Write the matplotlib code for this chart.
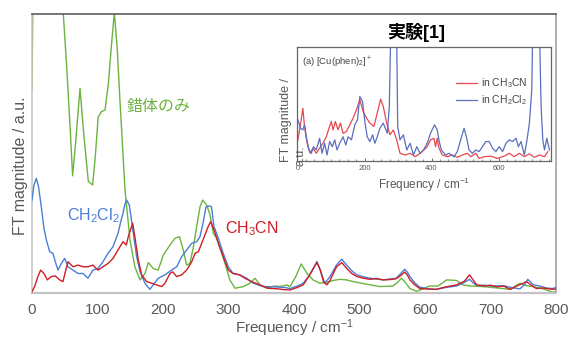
import matplotlib
matplotlib.use("Agg")
import matplotlib.pyplot as plt
from matplotlib import font_manager
from matplotlib.ticker import MultipleLocator

# main spectra (computed), y in % of axis height
green_x = [0, 1.5, 3, 45, 47.8, 53, 58, 62, 67, 73.3, 79, 86, 92.6, 97, 101, 106, 111.5, 116.6, 121, 125.7,
           130, 134.3, 142, 149.6, 157, 165, 172.5, 177.6, 185, 192.6, 200.5, 210.7, 218.3, 225, 231, 236,
           241, 246, 251.4, 256.5, 260.6, 266.7, 271.8, 276.8, 282, 287, 294.7, 302, 310, 322.6, 333, 340.5,
           348, 358, 370, 380, 389, 394, 403, 411, 420, 429, 439, 450, 460, 470, 480, 490, 510, 531, 551, 558,
           564, 570, 577, 587, 597, 607, 620, 633, 648, 658, 670, 689, 710, 730, 745, 755, 765, 780, 795, 800]
green_y = [73, 110, 150, 150, 100, 81, 60, 42, 55, 73.4, 57, 40, 38.7, 50, 63, 65, 65.6, 75, 88, 100.5,
           88, 69, 36.9, 19, 9.4, 4.7, 7, 10.9, 8.8, 8.2, 13.6, 17.2, 19.6, 20.2, 15.4, 10,
           10.6, 16, 23.8, 30.9, 33.3, 31.5, 28, 21.4, 19.6, 16, 10.6, 4.7, 1.7, 2.3, 3.5, 5.3,
           2.9, 1.7, 2.5, 2.3, 2.9, 2.3, 6, 10.4, 7, 4.7, 3.5, 3.8, 4.5, 4.9, 4.7, 4.1, 3.2, 2.3, 2.5, 3.8,
           5.3, 3.8, 1.6, 0.6, 1.5, 2.5, 2.5, 4.7, 4.5, 2.9, 2.5, 2.3, 1.8, 1.3, 3.5, 2.6, 2.3, 1.5, 0.3, 0.5]

blue_x = [0, 3, 6.6, 10, 14.2, 18.3, 21.9, 27, 32, 35.6, 39.7, 44.8, 49.9, 55, 62.6, 70.2, 77.9, 85.5, 93, 100.7,
          108.4, 116, 123.7, 131.3, 136, 139, 142, 144.6, 148.6, 154.7, 159.8, 165, 172.5, 180, 185, 192.8, 203,
          213, 221, 228.5, 236, 243.8, 251.4, 256.5, 261.6, 265.6, 270.7, 274, 277.9, 284.5, 292, 299.7, 307,
          317, 327.7, 338, 353, 370, 385, 394, 405, 414, 421, 427, 435, 440, 447, 455, 465, 473, 480, 488, 496,
          506, 516, 526, 536, 546, 556, 563, 569, 573, 577, 585, 592, 605, 617, 632, 648, 660, 668, 674, 679,
          690, 700, 720, 735, 745, 752, 757, 765, 775, 785, 795, 800]
blue_y = [33.3, 38.7, 41.1, 38.1, 30.9, 23.2, 19, 14.8, 14.2, 11.2, 8.2, 10.6, 12.4, 9.4, 8.2, 7, 7, 5.3, 8.2, 8.8,
          11.2, 14.2, 16.6, 21.4, 26, 28.6, 32, 33.3, 31.5, 21.4, 13, 7.6, 3.5, 1.3, 2.9, 5.3, 6.5,
          8.2, 9.4, 13, 15.4, 17.8, 18.4, 20.2, 25.6, 30.9, 31.2, 30.9, 23.8, 19.6, 14.2, 9.4, 7,
          6.5, 5.3, 3.5, 2.3, 2.2, 2, 1.6, 2.5, 3.5, 5.5, 7.7, 11.3, 8.3, 3.5, 5.9, 10.1, 12.1, 10.1, 8, 6.5,
          5.8, 5.3, 5, 4.7, 5, 5.3, 7, 8.5, 7.5, 5.9, 3.5, 2.1, 1.5, 1.3, 2, 2.5, 3.8, 4.9, 3.5, 2.7,
          2.8, 2.5, 2.6, 1.8, 1.5, 3, 4.9, 3, 2.5, 1.8, 1.6, 2]

red_x = [0, 4, 9, 13.2, 18.3, 23.4, 29.5, 35.6, 42.2, 47.3, 50.9, 55, 62.6, 70.2, 77.9, 85.5, 93, 100.7, 108.4, 116,
         123.7, 131.3, 139, 144, 147, 153.7, 157, 162.3, 167.4, 175, 182.7, 190.3, 198, 203, 210.7, 214.7, 220.8,
         228.5, 236, 243.8, 249, 254, 259, 264, 269, 272.8, 277.9, 284.5, 292, 299.7, 307, 317, 325, 335, 348,
         360.5, 375, 385, 394, 405, 414, 424, 430, 435, 440, 445, 450, 455, 460, 465, 473, 480, 488, 496, 506,
         516, 526, 536, 546, 556, 563, 569, 573, 577, 584, 592, 605, 617, 632, 648, 660, 668, 674, 679, 690,
         700, 710, 720, 730, 740, 748, 755, 762, 770, 780, 795, 800]
red_y = [0.5, 2.3, 5.9, 8.2, 7, 4.7, 5.9, 6.1, 4.7, 4.1, 7.6, 11.2, 9.4, 10, 9.4, 9.4, 10, 8.2, 9.4, 10.6,
         12.4, 15.4, 18.4, 17.2, 20.2, 25, 20.2, 11.8, 6.5, 4.1, 3.5, 2.9, 2.3, 3.5, 7, 7.6, 5.9,
         6.5, 8.2, 11.2, 14.2, 14.8, 17.8, 20.8, 23.8, 25.6, 22.6, 17.8, 13, 8.2, 7, 6.5, 5.3, 4.1, 2.9,
         1.7, 1.5, 1.2, 1.1, 2, 2.9, 6.5, 9, 10.9, 8.3, 4.1, 2.9, 4.5, 7, 9.4, 10.9, 8.9, 7, 5.9, 5.3,
         4.9, 5.2, 4.7, 4.8, 5.1, 6.3, 7.5, 6.5, 4.7, 3, 1.6, 1.4, 1.3, 2.2, 2.9, 4.2, 6.5, 4.5, 2.9, 2.5,
         2.8, 2.2, 2.5, 1.3, 2.5, 3.3, 4.1, 2.8, 1.6, 1.8, 1.3, 1.5]

# experimental spectra of the inset
exp_red_x = [1, 11, 16, 21, 26, 31, 38, 46, 56, 66, 76, 86, 94, 101, 106, 113, 121, 128, 136, 146,
             156, 166, 176, 186, 196, 206, 216, 228, 238, 248, 256, 266, 276, 286, 296, 306, 321, 336, 351, 366,
             377, 387, 397, 407, 412, 417, 422, 432, 447, 462, 477, 492, 507, 517, 532, 542, 557, 577, 597, 617,
             632, 647, 662, 677, 692, 707, 722, 737, 747]
exp_red_y = [18, 35.9, 46, 30, 19.7, 12.3, 6.5, 11, 6.5, 11, 15.3, 21, 28.5, 34.4, 27, 34.4, 27, 33, 24, 25.6,
             31.5, 37.4, 44.7, 53.5, 43, 37.4, 33, 30, 41.8, 54, 47.6, 33, 22.7, 27, 18.3, 6.5, 5, 6.5, 3.5, 6.5,
             9.4, 12.3, 18.3, 19.7, 12.3, 19.7, 11, 5, 3.5, 5, 3, 5, 6.5, 3.5, 6.5, 2, 3.5, 4, 2, 4,
             6.5, 3.5, 6.5, 3.5, 6, 3, 5, 3.5, 8]
exp_blue_x = [1, 9, 16, 21, 28, 34, 41, 48, 56, 66, 73, 81, 88, 96, 104, 111, 118, 126, 136, 144,
              151, 161, 171, 179, 186, 194, 201, 208, 216, 224, 231, 238, 246, 256, 264, 268, 274, 278, 287, 296,
              299, 306, 316, 326, 336, 346, 356, 366, 376, 387, 397, 409, 417, 422, 429, 442, 452, 467, 477, 487,
              497, 505, 512, 522, 532, 542, 552, 562, 572, 582, 592, 602, 612, 622, 632, 642, 652, 659, 667, 677,
              685, 692, 699, 703, 712, 721, 727, 732, 737, 744, 752]
exp_blue_y = [35.9, 28.5, 27, 31.5, 18.3, 9.4, 6.5, 12.3, 9.4, 19.7, 6.5, 15.3, 5, 16.8, 12.3, 18.3, 9.4, 15.3, 21, 13.8,
              21, 18.3, 31.5, 35.9, 56.4, 52, 34.4, 21, 16.8, 22.7, 15.3, 21, 28.5, 33, 27, 24, 47.6, 110, 250, 110,
              30, 18.3, 22.7, 9.4, 15.3, 5, 12.3, 6.5, 9.4, 15.3, 24, 31.5, 27, 18.3, 9.4, 5, 6.5, 3.5, 8, 18.3,
              28.5, 19.7, 9.4, 6.5, 9.4, 8, 12.3, 16.8, 16.8, 11, 8, 12.3, 8, 15.3, 18.3, 16.8, 19.7, 12.3, 16.8, 5,
              18.3, 33, 62, 130, 250, 130, 47.6, 18.3, 9.4, 19.7, 9.4]

main_ticks = [0, 100, 200, 300, 400, 500, 600, 700, 800]
inset_ticks = [0, 200, 400, 600]

GREEN = "#6DB33F"
BLUE = "#4A7FD6"
RED = "#D01C24"
GRAY_TXT = "#595959"

installed = {f.name for f in font_manager.fontManager.ttflist}
narrow = "Liberation Sans Narrow" if "Liberation Sans Narrow" in installed else "Liberation Sans"

plt.rcParams["font.family"] = ["Liberation Sans", "Noto Sans CJK JP", "DejaVu Sans"]
plt.rcParams["mathtext.default"] = "regular"

fig = plt.figure(figsize=(5.69, 3.38), dpi=100)
W, H = 569, 338

# main axes
ax = fig.add_axes([32 / W, 1 - 293 / H, 524 / W, 279 / H])
ax.plot(green_x, green_y, color=GREEN, lw=1.0, zorder=2)
ax.plot(blue_x, blue_y, color=BLUE, lw=1.0, zorder=3)
ax.plot(red_x, red_y, color=RED, lw=1.0, zorder=4)
ax.set_xlim(0, 800)
ax.set_ylim(0, 100)
ax.set_xticks(main_ticks)
ax.set_yticks([])
ax.tick_params(axis="x", length=0, pad=7, labelsize=11, labelcolor=GRAY_TXT)
ax.spines["top"].set_color("#505050")
ax.spines["right"].set_color("#9a9a9a")
ax.spines["left"].set_color("#c4c4c4")
ax.spines["bottom"].set_color("#c4c4c4")
for s in ["top", "right", "left"]:
    ax.spines[s].set_linewidth(1.1)
ax.spines["bottom"].set_linewidth(1.6)

ax.set_xlabel("Frequency / cm$^{-1}$", fontsize=11, color=GRAY_TXT)
ax.xaxis.set_label_coords(0.5, -0.088)
fig.text(21 / W, 1 - 166 / H, "FT magnitude / a.u.", rotation=90, ha="center", va="center",
         fontsize=11.5, color=GRAY_TXT)

ax.text(145, 66.7, "錯体のみ", color=GREEN, fontsize=11.5, ha="left", va="center")
ax.text(53, 26.2, "CH$_2$Cl$_2$", color=BLUE, fontsize=11.5, ha="left", va="baseline")
ax.text(294.7, 21.4, "CH$_3$CN", color=RED, fontsize=11.5, ha="left", va="baseline")

# inset with the experimental reference
fig.text(416 / W, 1 - 33 / H, "実験[1]", fontsize=13, fontweight="bold", ha="center", va="center",
         color="black")
ins = fig.add_axes([297.5 / W, 1 - 160.7 / H, 253 / W, 114 / H])
ins.plot(exp_red_x, exp_red_y, color="#E8474F", lw=0.9, label="in CH$_3$CN")
ins.plot(exp_blue_x, exp_blue_y, color="#5A6FBF", lw=0.9, label="in CH$_2$Cl$_2$")
ins.set_xlim(0, 755)
ins.set_ylim(0, 100)
ins.set_xticks(inset_ticks)
ins.xaxis.set_minor_locator(MultipleLocator(25))
ins.set_yticks([])
ins.tick_params(axis="x", which="major", direction="in", length=2.5, width=0.6, pad=3,
                labelsize=5.5, labelcolor=GRAY_TXT, color="#555555")
ins.tick_params(axis="x", which="minor", direction="in", length=1.5, width=0.5, color="#555555")
for s in ins.spines.values():
    s.set_color("#666666")
    s.set_linewidth(0.9)
ins.text(0.017, 0.866, "(a) [Cu(phen)$_2$]$^+$", transform=ins.transAxes, fontsize=6.8,
         family=narrow, color="#444444", va="center", ha="left")
ins.legend(loc="upper left", bbox_to_anchor=(0.59, 0.82), frameon=False, handlelength=2.0,
           handletextpad=0.4, labelspacing=0.3, prop={"family": narrow, "size": 7.5},
           labelcolor="#444444")
ins.set_xlabel("Frequency / cm$^{-1}$", fontsize=8.5, color=GRAY_TXT, labelpad=3)
fig.text(286 / W, 1 - 162 / H, "FT magnitude /", rotation=90, ha="center", va="bottom",
         fontsize=9, color=GRAY_TXT)
fig.text(301 / W, 1 - 166 / H, "a.u.", rotation=90, ha="center", va="bottom",
         fontsize=9, color=GRAY_TXT)

fig.savefig("out.png", dpi=100)
